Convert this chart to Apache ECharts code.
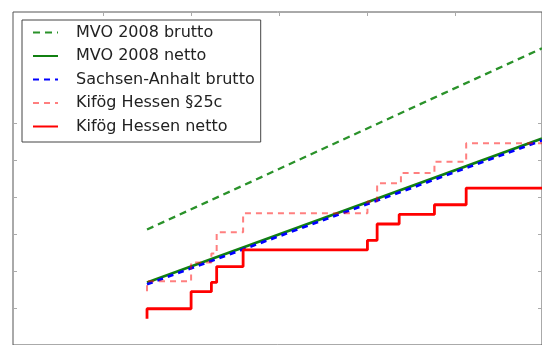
<!DOCTYPE html>
<html>
<head>
<meta charset="utf-8">
<script src="https://cdn.jsdelivr.net/npm/echarts@6/dist/echarts.min.js"></script>
<style>html,body{margin:0;padding:0;background:#fff;}#c{width:542px;height:345px;}</style>
</head>
<body>
<div id="c"></div>
<script>
// Data (abstract units; tick interval = 1)
const seriesNames = ['MVO 2008 brutto', 'MVO 2008 netto', 'Sachsen-Anhalt brutto', 'Kifög Hessen §25c', 'Kifög Hessen netto'];
const mvoBrutto = [[0.5, 2.12], [4.98, 7.02]];
const mvoNetto = [[0.5, 0.69], [4.98, 4.58]];
const sachsenBrutto = [[0.5, 0.64], [4.98, 4.53]];
const kifoegP25c = [[0.5, 0.45], [0.5, 0.72], [1.0, 1.23], [1.23, 1.47], [1.29, 2.05], [1.59, 2.56], [3.0, 2.88], [3.11, 3.37], [3.38, 3.65], [3.76, 3.95], [4.12, 4.45], [4.98, 4.45]];
const kifoegNetto = [[0.5, -0.29], [0.5, -0.02], [1.0, 0.44], [1.23, 0.69], [1.29, 1.12], [1.59, 1.57], [3.0, 1.83], [3.11, 2.27], [3.36, 2.53], [3.76, 2.79], [4.12, 3.24], [4.98, 3.24]];
const xTicks = [0, 1, 2, 3, 4];
const yTicks = [0, 1, 2, 3, 4, 5];

const chart = echarts.init(document.getElementById('c'), null, {renderer: 'canvas'});
const tickStyle = {show: true, inside: true, length: 4, lineStyle: {color: '#aaa', width: 1}};
const hiddenLine = {show: false, onZero: false};
const option = {
  animation: false,
  backgroundColor: '#fff',
  grid: {left: 13, top: 12, width: 530, height: 337.5, show: true, borderColor: '#555', borderWidth: 1, backgroundColor: 'transparent'},
  xAxis: [{
    type: 'value', position: 'top', min: -1.02, max: 4.98,
    axisLine: hiddenLine, splitLine: {show: false}, axisLabel: {show: false},
    axisTick: Object.assign({customValues: xTicks}, tickStyle)
  }],
  yAxis: [{
    type: 'value', position: 'left', min: -1, max: 8,
    axisLine: hiddenLine, splitLine: {show: false}, axisLabel: {show: false},
    axisTick: Object.assign({customValues: yTicks}, tickStyle)
  }, {
    type: 'value', position: 'right', min: -1, max: 8,
    axisLine: hiddenLine, splitLine: {show: false}, axisLabel: {show: false},
    axisTick: Object.assign({customValues: yTicks}, tickStyle)
  }],
  legend: {
    left: 22, top: 20, orient: 'vertical',
    backgroundColor: '#fff', borderColor: '#444', borderWidth: 1,
    padding: [3.5, 6, 6.5, 10], itemGap: 5.5, itemWidth: 25, itemHeight: 14,
    itemStyle: {opacity: 0},
    data: seriesNames,
    textStyle: {fontFamily: 'DejaVu Sans', fontSize: 16, color: '#222', lineHeight: 18, padding: [0, 0, 0, 13]}
  },
  series: [
    {name: seriesNames[0], type: 'line', data: mvoBrutto, symbol: 'none', z: 2,
     lineStyle: {color: '#2a922a', width: 2.3, type: [7, 5]}, itemStyle: {color: '#2a922a'}},
    {name: seriesNames[1], type: 'line', data: mvoNetto, symbol: 'none', z: 3,
     lineStyle: {color: '#118011', width: 2.7}, itemStyle: {color: '#118011'}},
    {name: seriesNames[2], type: 'line', data: sachsenBrutto, symbol: 'none', z: 4,
     lineStyle: {color: '#0000ff', width: 2.7, type: [6, 5]}, itemStyle: {color: '#0000ff'}},
    {name: seriesNames[3], type: 'line', data: kifoegP25c, step: 'end', symbol: 'none', z: 5,
     lineStyle: {color: 'rgba(255,0,0,0.5)', width: 2, type: [6, 5]}, itemStyle: {color: 'rgba(255,0,0,0.5)'}},
    {name: seriesNames[4], type: 'line', data: kifoegNetto, step: 'end', symbol: 'none', z: 6,
     lineStyle: {color: '#ff0000', width: 2.8}, itemStyle: {color: '#ff0000'}}
  ]
};
chart.setOption(option);
</script>
</body>
</html>
